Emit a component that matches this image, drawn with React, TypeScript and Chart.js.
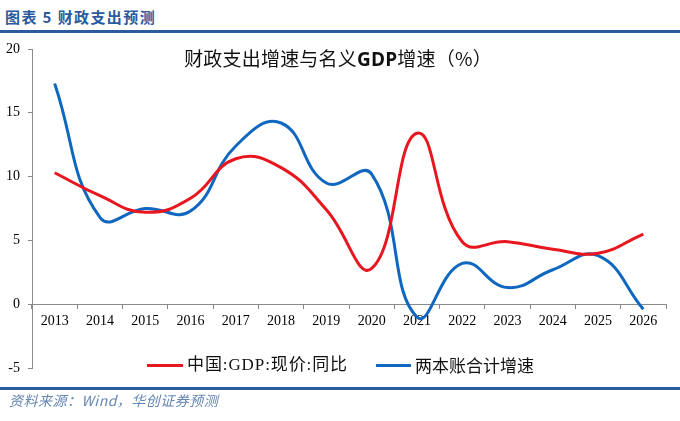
import { useEffect, useRef } from "react"
import { Chart, registerables } from "chart.js"

Chart.register(...registerables)

const years = [
  "2013", "2014", "2015", "2016", "2017", "2018", "2019",
  "2020", "2021", "2022", "2023", "2024", "2025", "2026",
]
// 中国:GDP:现价:同比
const gdpGrowth = [10.3, 8.5, 7.2, 8.3, 11.4, 10.7, 7.4, 2.8, 13.4, 4.9, 4.9, 4.3, 4.0, 5.5]
// 两本账合计增速
const budgetGrowth = [17.3, 6.8, 7.5, 7.3, 12.4, 14.2, 9.5, 10.2, -1.0, 3.2, 1.3, 2.7, 3.8, -0.4]

const seriesNames = ["中国:GDP:现价:同比", "两本账合计增速"]
const seriesColors = ["#e8161e", "#0f67c0"]
const yMin = -5
const yMax = 20
const yStep = 5

const axisColor = "#8a8a8a"
const headBlue = "#2b5a9e"

export default function App() {
  const canvasRef = useRef<HTMLCanvasElement | null>(null)
  const chartRef = useRef<Chart | null>(null)

  useEffect(() => {
    if (!canvasRef.current) return
    const ctx = canvasRef.current.getContext("2d")
    if (!ctx) return

    chartRef.current = new Chart(ctx, {
      type: "line",
      data: {
        labels: years,
        datasets: [
          {
            label: seriesNames[0],
            data: gdpGrowth,
            borderColor: seriesColors[0],
            borderWidth: 3,
            pointRadius: 0,
            tension: 0.45,
            fill: false,
          },
          {
            label: seriesNames[1],
            data: budgetGrowth,
            borderColor: seriesColors[1],
            borderWidth: 3,
            pointRadius: 0,
            tension: 0.45,
            fill: false,
          },
        ],
      },
      options: {
        responsive: false,
        animation: false,
        layout: {
          padding: { top: 49, bottom: 53, left: 0, right: 14 },
        },
        plugins: {
          legend: { display: false },
          title: { display: false },
          tooltip: { enabled: false },
        },
        scales: {
          x: {
            type: "category",
            position: { y: 0 },
            offset: true,
            afterFit: (scale) => {
              scale.height = 0
            },
            grid: {
              offset: true,
              drawOnChartArea: false,
              drawTicks: true,
              tickLength: 4,
              color: axisColor,
            },
            border: { color: axisColor, width: 1 },
            ticks: {
              color: "#000",
              padding: 5,
              maxRotation: 0,
              autoSkip: false,
              font: { family: "'Liberation Serif', serif", size: 14 },
            },
          },
          y: {
            min: yMin,
            max: yMax,
            afterFit: (scale) => {
              scale.width = 32
            },
            grid: {
              drawOnChartArea: false,
              drawTicks: true,
              tickLength: 4,
              color: axisColor,
            },
            border: { color: axisColor, width: 1 },
            ticks: {
              stepSize: yStep,
              color: "#000",
              padding: 8,
              font: { family: "'Liberation Serif', serif", size: 14 },
            },
          },
        },
      },
    })

    return () => {
      if (chartRef.current) {
        chartRef.current.destroy()
        chartRef.current = null
      }
    }
  }, [])

  const legendText = {
    position: "absolute" as const,
    top: 354,
    fontSize: 17,
    lineHeight: "22px",
    color: "#111",
    fontFamily: "'Liberation Serif', 'Noto Sans CJK SC', serif",
    whiteSpace: "nowrap" as const,
  }

  return (
    <div
      style={{
        position: "absolute",
        left: 0,
        top: 0,
        width: 680,
        height: 421,
        background: "#fff",
        overflow: "hidden",
      }}
    >
      <div
        style={{
          position: "absolute",
          left: 5,
          top: 6,
          fontSize: 15,
          lineHeight: "22px",
          fontWeight: 700,
          letterSpacing: 1.4,
          color: headBlue,
          fontFamily: "'Noto Sans CJK SC', sans-serif",
          whiteSpace: "nowrap",
        }}
      >
        图表 5 财政支出预测
      </div>
      <div style={{ position: "absolute", left: 0, top: 30, width: 680, height: 3, background: headBlue }} />

      <canvas ref={canvasRef} width={680} height={421} style={{ position: "absolute", left: 0, top: 0 }} />

      <div
        style={{
          position: "absolute",
          left: 0,
          width: 676,
          top: 45,
          textAlign: "center",
          fontSize: 19,
          lineHeight: "26px",
          letterSpacing: 0.2,
          color: "#111",
          fontFamily: "'Noto Sans CJK SC', sans-serif",
          whiteSpace: "nowrap",
        }}
      >
        财政支出增速与名义<span style={{ fontWeight: 700, fontFamily: "'Open Sans', 'Noto Sans', sans-serif" }}>GDP</span>增速（%）
      </div>

      <div style={{ position: "absolute", left: 147, top: 364, width: 36, height: 3, background: seriesColors[0] }} />
      <div style={{ ...legendText, left: 187, letterSpacing: 0.9 }}>{seriesNames[0]}</div>
      <div style={{ position: "absolute", left: 376, top: 364, width: 35, height: 3, background: seriesColors[1] }} />
      <div style={{ ...legendText, left: 415, fontFamily: "'Noto Sans CJK SC', sans-serif" }}>{seriesNames[1]}</div>

      <div style={{ position: "absolute", left: 0, top: 387, width: 680, height: 2.5, background: headBlue }} />
      <div
        style={{
          position: "absolute",
          left: 9,
          top: 391,
          fontSize: 14,
          lineHeight: "18px",
          fontStyle: "italic",
          letterSpacing: 0.5,
          color: "#6585b3",
          fontFamily: "'Noto Sans CJK SC', sans-serif",
          whiteSpace: "nowrap",
        }}
      >
        资料来源：Wind，华创证券预测
      </div>
    </div>
  )
}
